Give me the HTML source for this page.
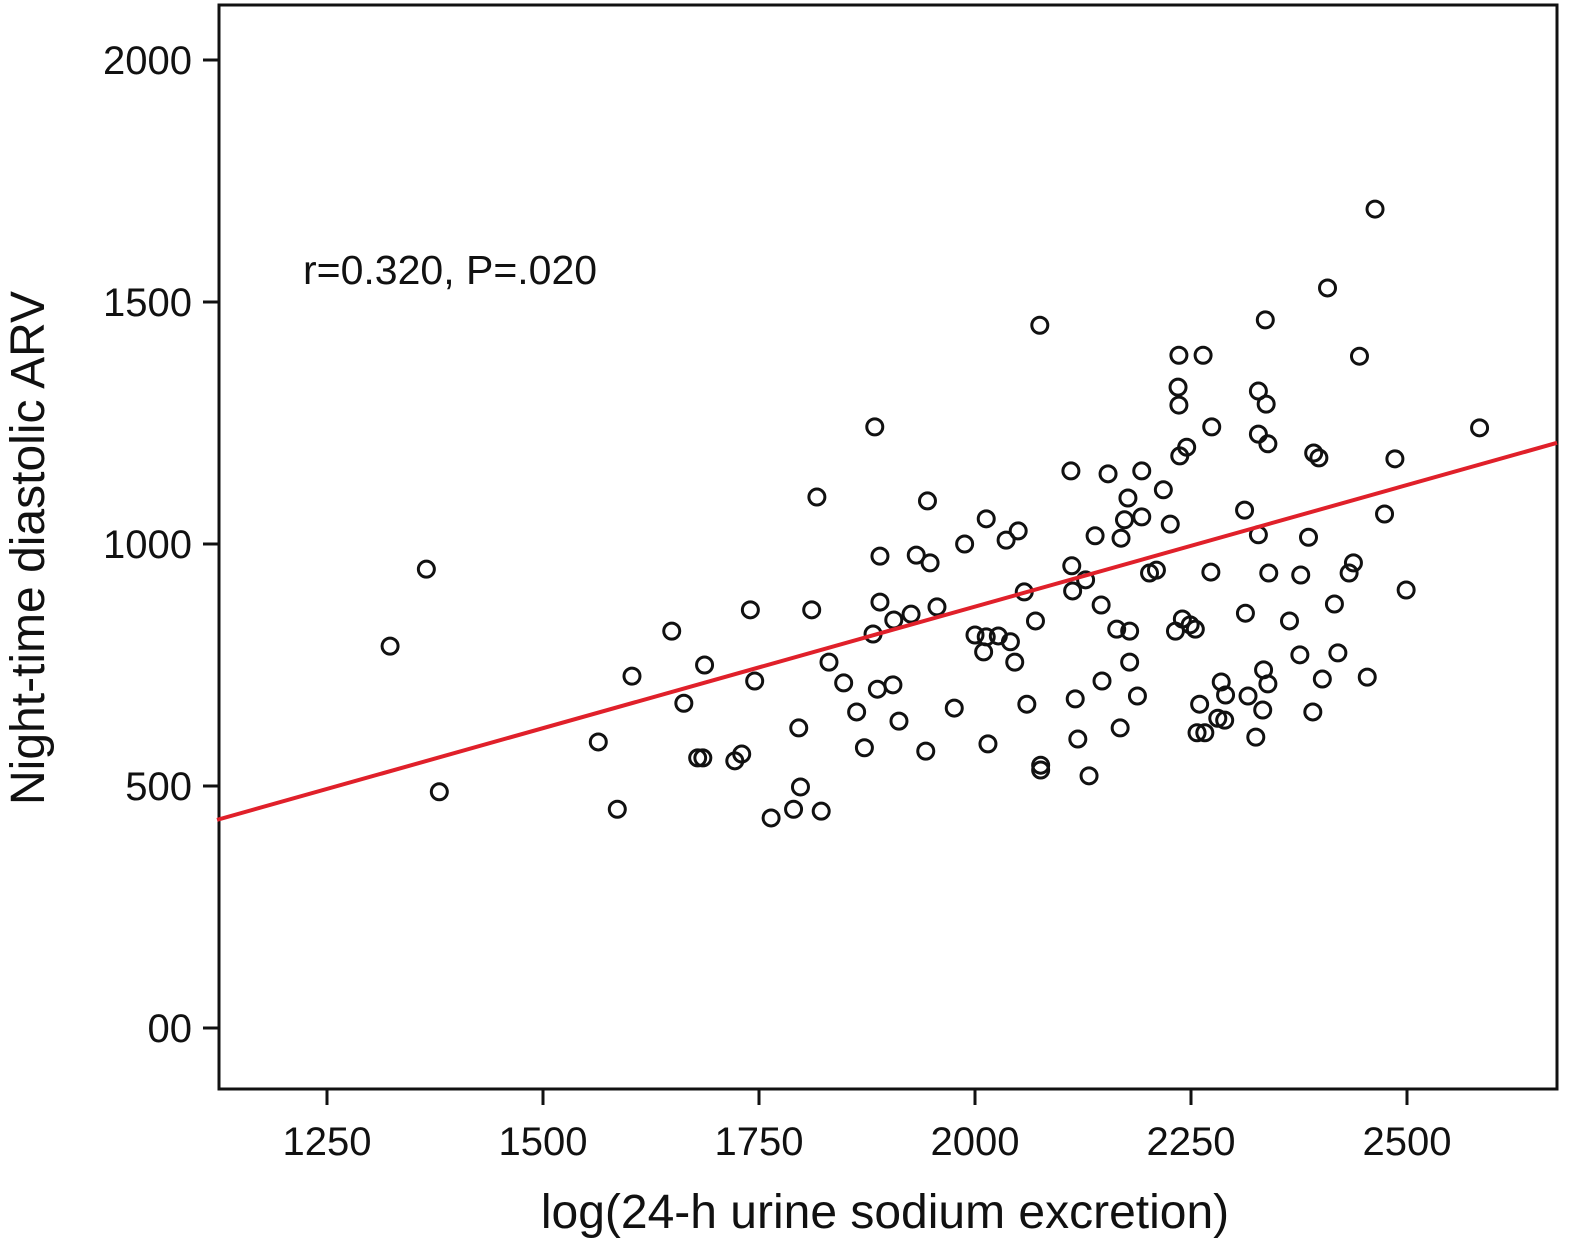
<!DOCTYPE html>
<html><head><meta charset="utf-8"><style>
html,body{margin:0;padding:0;background:#fff;}
svg text{font-family:"Liberation Sans",Arial,sans-serif;fill:#111;}
</style></head><body>
<svg id="chart" width="1578" height="1246" viewBox="0 0 1578 1246" xmlns="http://www.w3.org/2000/svg">
<rect x="219" y="5" width="1338" height="1084" fill="none" stroke="#111" stroke-width="3"/>
<g id="ticks"></g>
<g id="points"></g>
<g id="fit"></g>
<text x="303" y="284" font-size="41">r=0.320, P=.020</text>
<text x="885" y="1228" font-size="48" text-anchor="middle">log(24-h urine sodium excretion)</text>
<text transform="translate(44,548) rotate(-90)" font-size="48" text-anchor="middle">Night-time diastolic ARV</text>
</svg>
<script>
const xTicks=[1250,1500,1750,2000,2250,2500];
const xTickLabels=["1250","1500","1750","2000","2250","2500"];
const yTicks=[0,500,1000,1500,2000];
const yTickLabels=["00","500","1000","1500","2000"];
const xVals=[1323,1365,1380,1564,1586,1603,1649,1663,1687,1679,1685,1722,1730,1740,1745,1764,1790,1796,1798,1811,1817,1822,1831,1848,1863,1872,1882,1884,1887,1890,1890,1905,1906,1912,1926,1932,1943,1945,1948,1956,1976,1988,2000,2010,2013,2013,2015,2027,2036,2041,2046,2050,2057,2060,2070,2075,2076,2076,2111,2112,2113,2116,2119,2128,2132,2139,2146,2147,2154,2164,2168,2169,2173,2177,2179,2179,2188,2193,2193,2202,2210,2218,2226,2232,2235,2236,2236,2237,2240,2245,2249,2255,2257,2260,2264,2266,2273,2274,2281,2285,2289,2290,2312,2313,2316,2325,2328,2328,2328,2333,2334,2336,2337,2339,2339,2340,2364,2376,2377,2386,2391,2392,2398,2402,2408,2416,2420,2433,2438,2445,2454,2463,2474,2486,2499,2584];
const yVals=[789,948,488,591,452,727,820,671,750,558,558,552,566,864,717,434,452,620,498,864,1097,448,756,713,653,579,814,1242,700,975,880,709,843,634,855,977,572,1089,961,870,661,1000,812,777,808,1052,587,810,1008,798,756,1027,901,669,841,1452,543,533,1151,955,903,680,597,926,521,1017,874,717,1145,824,620,1012,1050,1095,820,756,686,1151,1056,940,946,1112,1041,820,1324,1390,1287,1182,845,1200,833,824,610,669,1390,610,942,1242,640,715,636,688,1070,857,686,601,1316,1019,1227,657,740,1463,1289,1207,711,940,841,771,936,1014,653,1188,1178,721,1529,876,775,940,961,1388,725,1692,1062,1176,905,1240];
const fitSlope=0.5023;
const fitIntercept=430-0.5023*1122.7;
const fitRange=[1122.7,2673.6];
const NS='http://www.w3.org/2000/svg';
function X(v){return 327+(v-1250)*0.864;}
function Y(v){return 1028-v*0.484;}
function mk(tag,attrs,parent){const e=document.createElementNS(NS,tag);for(const k in attrs)e.setAttribute(k,attrs[k]);parent.appendChild(e);return e;}
const tg=document.getElementById('ticks');
xTicks.forEach((t,i)=>{
 const l=mk('line',{x1:X(t),x2:X(t),y1:1089,y2:1105,stroke:'#111','stroke-width':3},tg);
 
 
 const tx=mk('text',{x:X(t),y:1155,'font-size':40,'text-anchor':'middle'},tg);
 tx.textContent=xTickLabels[i];
 
 
});
yTicks.forEach((t,i)=>{
 const l=mk('line',{x1:203,x2:219,y1:Y(t),y2:Y(t),stroke:'#111','stroke-width':3},tg);
 
 
 const tx=mk('text',{x:192,y:Y(t)+14,'font-size':40,'text-anchor':'end'},tg);
 tx.textContent=yTickLabels[i];
 
 
});
const pg=document.getElementById('points');
xVals.forEach((v,i)=>{
 const c=mk('circle',{cx:X(v),cy:Y(yVals[i]),r:8,fill:'none',stroke:'#111','stroke-width':3},pg);
 
 
});
const fg=document.getElementById('fit');
const fl=mk('line',{x1:X(fitRange[0]),y1:Y(fitIntercept+fitSlope*fitRange[0]),x2:X(fitRange[1]),y2:Y(fitIntercept+fitSlope*fitRange[1]),stroke:'#e0202a','stroke-width':4},fg);


</script>
</body></html>
